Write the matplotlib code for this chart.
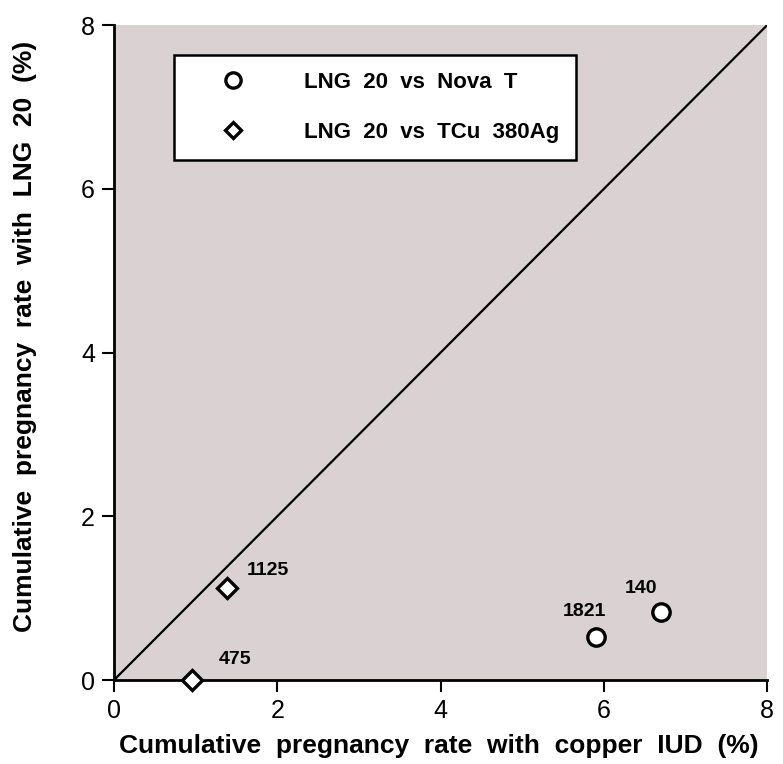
import matplotlib
matplotlib.use("Agg")
import matplotlib.pyplot as plt
from matplotlib.lines import Line2D

plt.rcParams['font.family'] = ['Liberation Sans', 'DejaVu Sans']

nova_x = [5.9, 6.7]
nova_y = [0.52, 0.83]
nova_labels = ["1821", "140"]
tcu_x = [1.38, 0.95]
tcu_y = [1.12, 0.0]
tcu_labels = ["1125", "475"]
ticks = [0, 2, 4, 6, 8]

fig = plt.figure(figsize=(7.83, 7.64), dpi=100)
ax = fig.add_axes([0.1456, 0.1099, 0.834, 0.857])
ax.set_facecolor('#d9d1d2')
ax.set_xlim(0, 8)
ax.set_ylim(0, 8)
ax.plot([0, 8], [0, 8], color='black', lw=1.6, zorder=2)

ax.plot(nova_x, nova_y, ls='none', marker='o', ms=12.5, mfc='white', mec='black', mew=2.4, clip_on=False, zorder=4)
ax.plot(tcu_x, tcu_y, ls='none', marker='D', ms=10, mfc='white', mec='black', mew=2.4, clip_on=False, zorder=4)

offsets_nova = [(-0.14, 0.32), (-0.25, 0.29)]
for x, y, t, (dx, dy) in zip(nova_x, nova_y, nova_labels, offsets_nova):
    ax.text(x + dx, y + dy, t, fontsize=14, fontweight='bold', ha='center', va='center')
offsets_tcu = [(0.51, 0.22), (0.53, 0.25)]
for x, y, t, (dx, dy) in zip(tcu_x, tcu_y, tcu_labels, offsets_tcu):
    ax.text(x + dx, y + dy, t, fontsize=14, fontweight='bold', ha='center', va='center')

for s in ['top', 'right']:
    ax.spines[s].set_visible(False)
for s in ['left', 'bottom']:
    ax.spines[s].set_linewidth(2)

ax.set_xticks(ticks)
ax.set_yticks(ticks)
ax.tick_params(direction='out', length=8.6, width=1.5, labelsize=18, pad=5)

ax.set_xlabel("Cumulative  pregnancy  rate  with  copper  IUD  (%)", fontsize=19, fontweight='bold')
ax.set_ylabel("Cumulative  pregnancy  rate  with  LNG  20  (%)", fontsize=19, fontweight='bold')
ax.xaxis.set_label_coords(0.497, -0.083)
ax.yaxis.set_label_coords(-0.118, 0.525)

handles = [
    Line2D([], [], ls='none', marker='o', ms=11, mfc='white', mec='black', mew=2.4),
    Line2D([], [], ls='none', marker='D', ms=8.5, mfc='white', mec='black', mew=2.4),
]
leg = ax.legend(handles, ["LNG  20  vs  Nova  T", "LNG  20  vs  TCu  380Ag"],
                loc='upper left', bbox_to_anchor=(0.092, 0.954), frameon=True, fancybox=False,
                edgecolor='black', framealpha=1, borderpad=0.75, labelspacing=1.3,
                handletextpad=1.3, handlelength=3.8, borderaxespad=0,
                prop={'weight': 'bold', 'size': 16})
leg.get_frame().set_linewidth(1.8)

fig.savefig("out.png", dpi=100)
